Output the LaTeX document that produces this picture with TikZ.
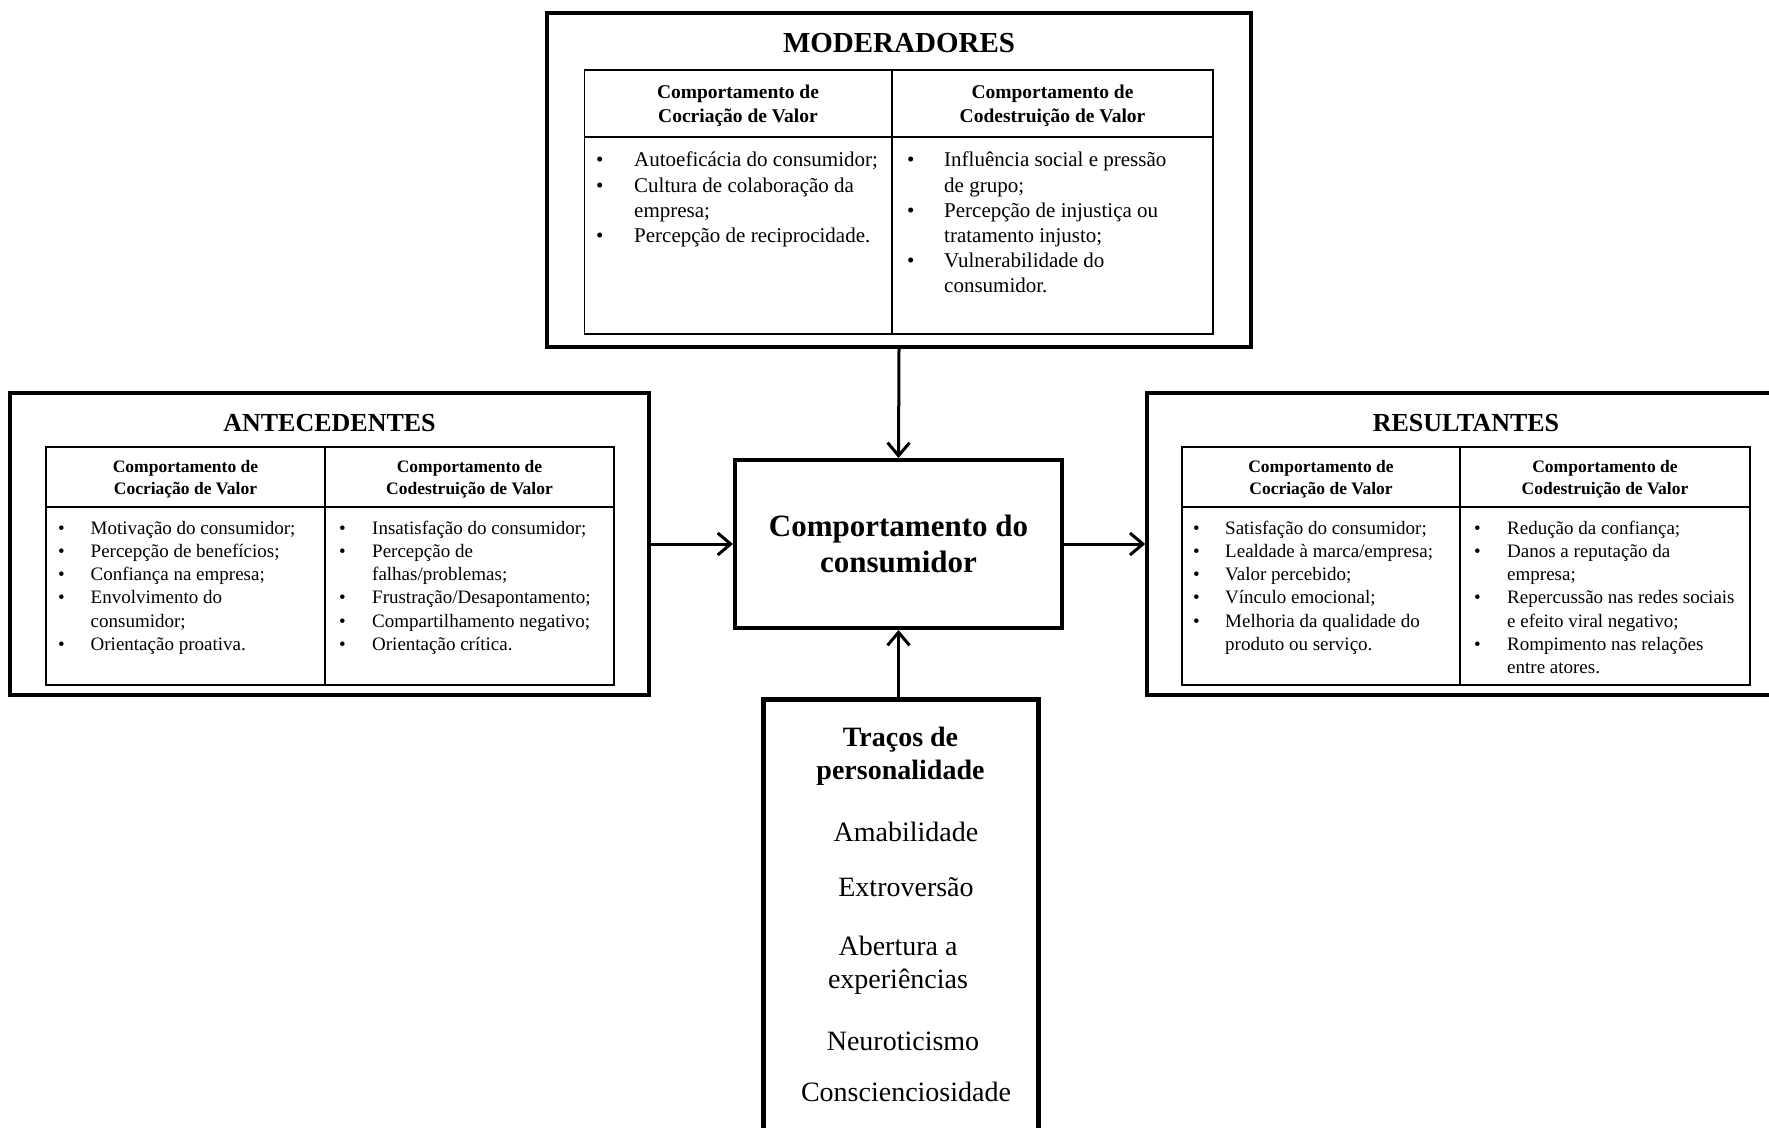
\documentclass[tikz,border=0pt]{standalone}
\usepackage{fontspec}
\setmainfont{Liberation Serif}
\usetikzlibrary{arrows.meta}

% bullet list helpers: \bl starts an item, \cl continues it on a new line
\newlength{\bw}
\newcommand{\bl}{\makebox[\bw][l]{\textbullet}}
\newcommand{\cl}{\hspace*{\bw}}

\begin{document}
\begin{tikzpicture}[x=1pt,y=-1pt,
  box/.style={draw, line width=3.5pt, inner sep=0pt},
  grid/.style={draw, line width=1.4pt},
  ttl/.style={inner sep=0pt, font=\bfseries\fontsize{26}{30}\selectfont},
  ttlm/.style={inner sep=0pt, font=\bfseries\fontsize{29}{33}\selectfont},
  hd/.style={align=center, inner sep=0pt, font=\bfseries\fontsize{17.5}{21.5}\selectfont},
  hdm/.style={align=center, inner sep=0pt, font=\bfseries\fontsize{19.5}{23.5}\selectfont},
  cell/.style={anchor=north west, inner sep=0pt, font=\fontsize{19}{23.1}\selectfont},
  cellm/.style={anchor=north west, inner sep=0pt, font=\fontsize{21}{25.2}\selectfont},
  trait/.style={anchor=base, inner sep=0pt, font=\fontsize{28}{33}\selectfont},
  arr/.style={line width=3pt, -{Straight Barb[length=13pt,width=22pt,line width=3pt]}},
]
\path[use as bounding box, clip] (0,0) rectangle (1769,1127);
\fill[white] (0,0) rectangle (1769,1127);

% ---------- MODERADORES ----------
\node[box, minimum width=704, minimum height=334] (mod) at (899,180) {};
\node[ttlm] (modt) at (899,43) {MODERADORES};
\draw[grid] (584.5,70) rectangle (1213,334);
\draw[grid] (584.5,137) -- (1213,137);
\draw[grid] (892,70) -- (892,334);
\node[hdm] (modh1) at (738,105.5) {Comportamento de\\Cocriação de Valor};
\node[hdm] (modh2) at (1052.5,105.5) {Comportamento de\\Codestruição de Valor};
\node[cellm] (modc1) at (596,149) {\setlength{\bw}{38pt}%
  \begin{tabular}{@{}l@{}}
  \bl Autoeficácia do consumidor;\\
  \bl Cultura de colaboração da\\
  \cl empresa;\\
  \bl Percepção de reciprocidade.
  \end{tabular}};
\node[cellm] (modc2) at (907,149) {\setlength{\bw}{37pt}%
  \begin{tabular}{@{}l@{}}
  \bl Influência social e pressão\\
  \cl de grupo;\\
  \bl Percepção de injustiça ou\\
  \cl tratamento injusto;\\
  \bl Vulnerabilidade do\\
  \cl consumidor.
  \end{tabular}};

% ---------- ANTECEDENTES ----------
\node[box, minimum width=639, minimum height=302] (ant) at (329.5,544) {};
\node[ttl] (antt) at (329.5,423) {ANTECEDENTES};
\draw[grid] (46,447) rectangle (614,685);
\draw[grid] (46,507) -- (614,507);
\draw[grid] (325,447) -- (325,685);
\node[hd] (anth1) at (185.5,479) {Comportamento de\\Cocriação de Valor};
\node[hd] (anth2) at (469.5,479) {Comportamento de\\Codestruição de Valor};
\node[cell] (antc1) at (58,518.3) {\setlength{\bw}{32.5pt}%
  \begin{tabular}{@{}l@{}}
  \bl Motivação do consumidor;\\
  \bl Percepção de benefícios;\\
  \bl Confiança na empresa;\\
  \bl Envolvimento do\\
  \cl consumidor;\\
  \bl Orientação proativa.
  \end{tabular}};
\node[cell] (antc2) at (339,518.3) {\setlength{\bw}{33pt}%
  \begin{tabular}{@{}l@{}}
  \bl Insatisfação do consumidor;\\
  \bl Percepção de\\
  \cl falhas/problemas;\\
  \bl Frustração/Desapontamento;\\
  \bl Compartilhamento negativo;\\
  \bl Orientação crítica.
  \end{tabular}};

% ---------- RESULTANTES ----------
\node[box, minimum width=660, minimum height=302] (res) at (1477,544) {};
\node[ttl] (rest) at (1466,423) {RESULTANTES};
\draw[grid] (1182,447) rectangle (1750,685);
\draw[grid] (1182,507) -- (1750,507);
\draw[grid] (1460,447) -- (1460,685);
\node[hd] (resh1) at (1321,479) {Comportamento de\\Cocriação de Valor};
\node[hd] (resh2) at (1605,479) {Comportamento de\\Codestruição de Valor};
\node[cell] (resc1) at (1193,518.3) {\setlength{\bw}{32pt}%
  \begin{tabular}{@{}l@{}}
  \bl Satisfação do consumidor;\\
  \bl Lealdade à marca/empresa;\\
  \bl Valor percebido;\\
  \bl Vínculo emocional;\\
  \bl Melhoria da qualidade do\\
  \cl produto ou serviço.
  \end{tabular}};
\node[cell] (resc2) at (1474,518.3) {\setlength{\bw}{33pt}%
  \begin{tabular}{@{}l@{}}
  \bl Redução da confiança;\\
  \bl Danos a reputação da\\
  \cl empresa;\\
  \bl Repercussão nas redes sociais\\
  \cl e efeito viral negativo;\\
  \bl Rompimento nas relações\\
  \cl entre atores.
  \end{tabular}};

% ---------- central construct ----------
\node[draw, line width=4pt, minimum width=327, minimum height=168, inner sep=0pt,
  align=center, font=\bfseries\fontsize{31}{36}\selectfont] (cb) at (898.5,544)
  {Comportamento do\\consumidor};

% ---------- personality traits ----------
\node[draw, line width=5pt, minimum width=275, minimum height=470] (tr) at (900.5,934) {};
\node[align=center, inner sep=0pt, font=\bfseries\fontsize{28}{33}\selectfont] (trt) at (900.5,756)
  {Traços de\\personalidade};
\node[trait] (t1) at (906,841) {Amabilidade};
\node[trait] (t2) at (906,896) {Extroversão};
\node[trait] (t3) at (898,955) {Abertura a};
\node[trait] (t4) at (898,988) {experiências};
\node[trait] (t5) at (903,1050) {Neuroticismo};
\node[trait] (t6) at (906,1101) {Conscienciosidade};

% ---------- connectors ----------
\draw[arr] (mod.south) -- (cb.north);
\draw[arr] (ant.east) -- (cb.west);
\draw[arr] (cb.east) -- (res.west);
\draw[arr] (cb.south |- tr.north) -- (cb.south);
\end{tikzpicture}
\end{document}
